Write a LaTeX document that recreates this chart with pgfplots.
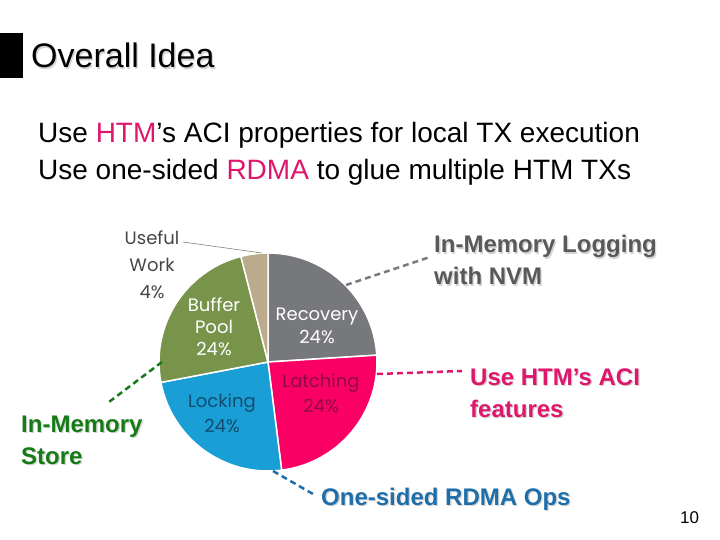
\documentclass[border=0pt]{standalone}
\usepackage{pgfplots}
\pgfplotsset{compat=1.18}
\usepackage{fontspec}
\setmainfont{Liberation Sans}
\newfontfamily\piefont{Poppins}
\definecolor{recov}{RGB}{119,120,124}
\definecolor{latch}{RGB}{250,0,100}
\definecolor{lockc}{RGB}{26,158,214}
\definecolor{buff}{RGB}{120,147,74}
\definecolor{useful}{RGB}{187,170,140}
\definecolor{htm}{RGB}{222,22,108}
\definecolor{lgray}{RGB}{89,89,89}
\definecolor{lgreen}{RGB}{22,122,22}
\definecolor{lblue}{RGB}{30,110,170}
\definecolor{latchtxt}{RGB}{140,10,70}
\definecolor{locktxt}{RGB}{20,75,110}
\definecolor{usefultxt}{RGB}{70,70,70}
\definecolor{shadowc}{RGB}{212,212,212}
% pie slice: start angle, value (percent), colour
\newcommand\slice[3]{\fill[#3, draw=white, line width=1.5bp] (axis cs:268,362) -- ++(#1:109bp) arc[start angle=#1, end angle={#1-3.6*#2}, radius=109bp] -- cycle;}
% text with a soft shadow, all in one node
\newcommand\stext[5]{% x, y, colour, font, text
  \node[anchor=base west, inner sep=0pt, font=#4] at (axis cs:#1,#2)
    {\rlap{\hspace{1.3bp}\raisebox{-1.3bp}{\textcolor{shadowc}{#5}}}\textcolor{#3}{#5}};}
\newcommand\ptext[4]{% x, y, colour, text  (pie label, centred)
  \node[anchor=base, inner sep=0pt, text=#3, font=\piefont\fontsize{18bp}{22bp}\selectfont] at (axis cs:#1,#2) {#4};}
\begin{document}
\begin{tikzpicture}
\begin{axis}[x=1bp, y=1bp, xmin=0, xmax=720, ymin=0, ymax=540, y dir=reverse,
  hide axis, clip=false, scale only axis]
\path (axis cs:0,0) rectangle (axis cs:720,540);
% title
\fill[black] (axis cs:0,33) rectangle (axis cs:23,78);
\stext{31}{68}{black}{\fontsize{34bp}{40bp}\selectfont}{Overall Idea}
% body
\node[anchor=base west, inner sep=0pt, font=\fontsize{28bp}{34bp}\selectfont] at (axis cs:38,143)
  {Use \textcolor{htm}{HTM}’s ACI properties for local TX execution};
\node[anchor=base west, inner sep=0pt, font=\fontsize{28bp}{34bp}\selectfont] at (axis cs:38,180)
  {Use one-sided \textcolor{htm}{RDMA} to glue multiple HTM TXs};
% pie (values in percent, clockwise from the top)
\slice{90}{24}{recov}
\slice{3.6}{24}{latch}
\slice{-82.8}{24}{lockc}
\slice{-169.2}{24}{buff}
\slice{-255.6}{4}{useful}
% pie labels
\ptext{152}{245}{usefultxt}{Useful}
\ptext{152}{272}{usefultxt}{Work}
\ptext{152}{298}{usefultxt}{4\%}
\ptext{214}{311}{white}{Buffer}
\ptext{214}{333}{white}{Pool}
\ptext{214}{355}{white}{24\%}
\ptext{317}{320}{white}{Recovery}
\ptext{317}{343}{white}{24\%}
\ptext{321}{387}{latchtxt}{Latching}
\ptext{321}{412}{latchtxt}{24\%}
\ptext{222}{407}{locktxt}{Locking}
\ptext{222}{432}{locktxt}{24\%}
% leader lines
\addplot[gray, line width=0.6bp] coordinates {(183,242) (262,253)};
\addplot[recov, line width=2.5bp, dash pattern=on 6bp off 4bp] coordinates {(346,285) (430,257)};
\addplot[htm, line width=2.5bp, dash pattern=on 6bp off 4bp] coordinates {(377,374) (462,371)};
\addplot[lgreen, line width=2.5bp, dash pattern=on 6bp off 4bp] coordinates {(162,362) (109,402)};
\addplot[lblue, line width=2.5bp, dash pattern=on 6bp off 4bp] coordinates {(273,471) (313,494)};
% callout labels
\stext{434}{253}{lgray}{\bfseries\fontsize{24bp}{28bp}\selectfont}{In-Memory Logging}
\stext{434}{285}{lgray}{\bfseries\fontsize{24bp}{28bp}\selectfont}{with NVM}
\stext{470}{385}{htm}{\bfseries\fontsize{24bp}{28bp}\selectfont}{Use HTM’s ACI}
\stext{470}{417}{htm}{\bfseries\fontsize{24bp}{28bp}\selectfont}{features}
\stext{21}{432}{lgreen}{\bfseries\fontsize{24bp}{28bp}\selectfont}{In-Memory}
\stext{21}{464}{lgreen}{\bfseries\fontsize{24bp}{28bp}\selectfont}{Store}
\stext{321}{505}{lblue}{\bfseries\fontsize{24bp}{28bp}\selectfont}{One-sided RDMA Ops}
\node[anchor=base west, inner sep=0pt, font=\fontsize{17bp}{20bp}\selectfont] at (axis cs:680,523) {10};
\end{axis}
\end{tikzpicture}
\end{document}
